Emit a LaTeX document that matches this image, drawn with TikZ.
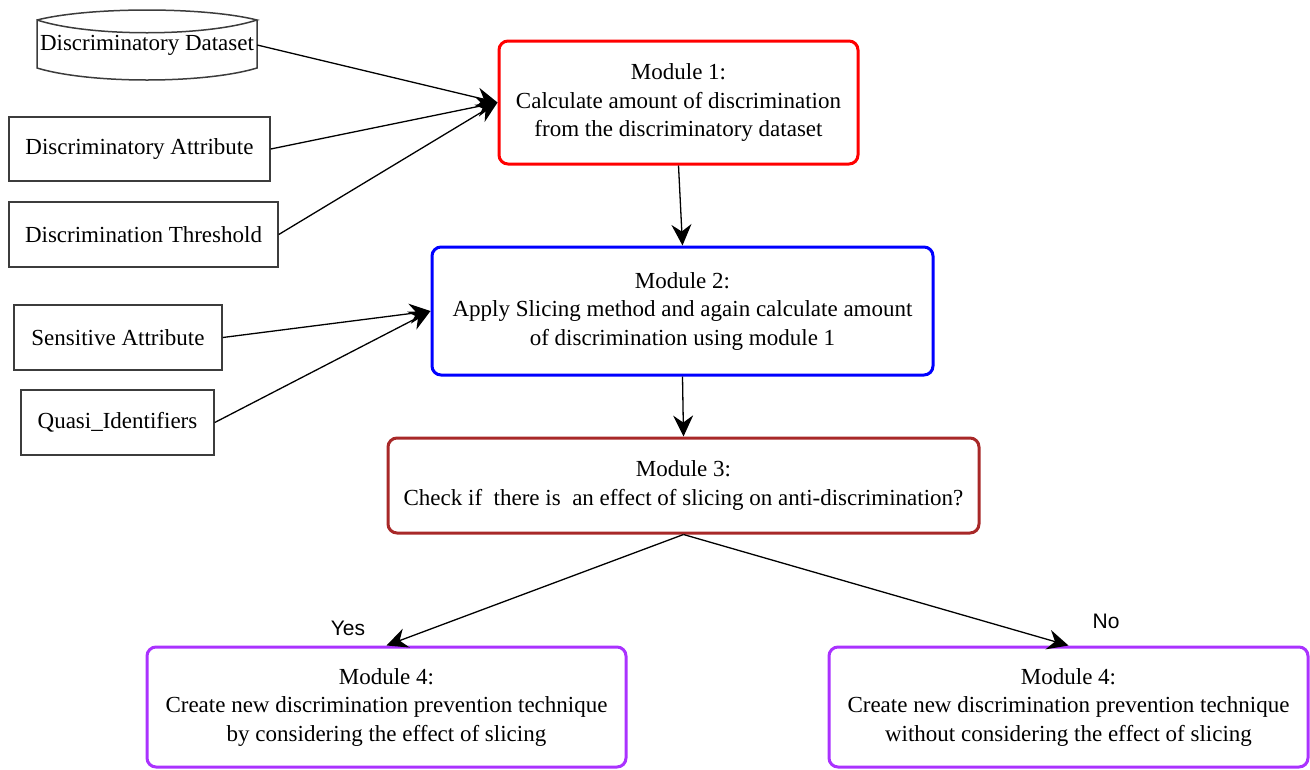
\documentclass[tikz,border=0pt]{standalone}
\usepackage{fontspec}
\setmainfont{Liberation Serif}
\newfontfamily\labfont{Liberation Sans}
\usetikzlibrary{arrows.meta}
\definecolor{mredc}{RGB}{255,0,0}
\definecolor{mbluec}{RGB}{0,0,255}
\definecolor{mbrownc}{RGB}{168,40,40}
\definecolor{mpurplec}{RGB}{170,50,255}
\definecolor{boxgray}{RGB}{60,60,60}
\begin{document}
\begin{tikzpicture}[x=1pt,y=-1pt,
  txt/.style={font=\fontsize{23}{28.5}\selectfont},
  inbox/.style={txt,draw=boxgray,line width=1.5pt,inner sep=0pt,align=center},
  modbox/.style={txt,rounded corners=9pt,line width=3pt,inner sep=0pt,align=center,fill=white},
  conn/.style={line width=1.3pt,-{Stealth[length=21pt,width=20pt,inset=7pt]}},
  lab/.style={font=\labfont\fontsize{21}{24}\selectfont,inner sep=0pt}
]
\useasboundingbox (0,0) rectangle (1310,769);
% cylinder (dataset)
\node[txt,inner sep=0pt,minimum width=220pt,minimum height=48pt] (ds) at (147,45) {Discriminatory Dataset};
\draw[boxgray,line width=1.5pt] (37,20) .. controls (90,6.7) and (204,6.7) .. (257,20)
  .. controls (204,37) and (90,37) .. (37,20) -- (37,68)
  .. controls (90,84) and (204,84) .. (257,68) -- (257,20);
% input boxes
\node[inbox,minimum width=261pt,minimum height=64pt] (attr) at (139.5,149) {Discriminatory Attribute};
\node[inbox,minimum width=269pt,minimum height=65pt] (thr) at (143.5,234.5) {Discrimination Threshold};
\node[inbox,minimum width=208pt,minimum height=65pt] (sens) at (118,337.5) {Sensitive Attribute};
\node[inbox,minimum width=193pt,minimum height=65pt] (quasi) at (117.5,422.5) {Quasi\_Identifiers};
% modules
\node[modbox,draw=mredc,minimum width=359pt,minimum height=123pt] (m1) at (678.5,102.5)
  {Module 1:\\Calculate amount of discrimination\\from the discriminatory dataset};
\node[modbox,draw=mbluec,minimum width=501pt,minimum height=128pt] (m2) at (682.5,311)
  {Module 2:\\Apply Slicing method and again calculate amount\\of discrimination using module 1};
\node[modbox,draw=mbrownc,minimum width=591pt,minimum height=95pt] (m3) at (683.5,485.5)
  {Module 3:\\Check if~ there is~ an effect of slicing on anti-discrimination?};
\node[modbox,draw=mpurplec,minimum width=479pt,minimum height=120pt] (m4a) at (386.5,707)
  {Module 4:\\Create new discrimination prevention technique\\by considering the effect of slicing};
\node[modbox,draw=mpurplec,minimum width=479pt,minimum height=120pt] (m4b) at (1068.5,707)
  {Module 4:\\Create new discrimination prevention technique\\without considering the effect of slicing};
% connectors
\draw[conn] (ds.east) -- (m1.west);
\draw[conn] (attr.east) -- (m1.west);
\draw[conn] (thr.east) -- (m1.west);
\draw[conn] (m1.south) -- (m2.north);
\draw[conn] (sens.east) -- (m2.west);
\draw[conn] (quasi.east) -- (m2.west);
\draw[conn] (m2.south) -- (m3.north);
\draw[conn] (m3.south) -- (m4a.north);
\draw[conn] (m3.south) -- (m4b.north);
% labels
\node[lab] (yes) at (348,628) {Yes};
\node[lab] (no) at (1106,621) {No};
\end{tikzpicture}
\end{document}
